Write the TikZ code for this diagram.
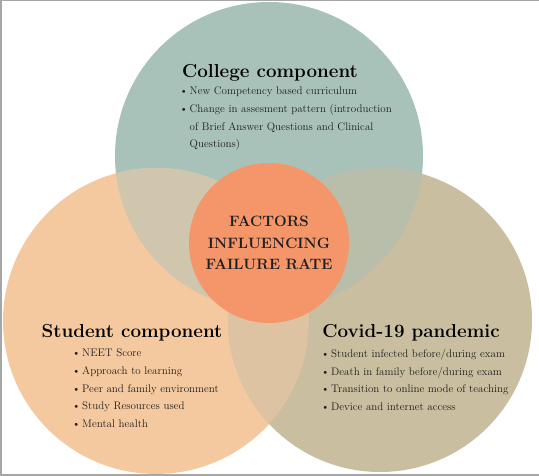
\documentclass[tikz,border=0pt]{standalone}
\usetikzlibrary{positioning}

\definecolor{collegeteal}{HTML}{A9C2B9}
\definecolor{studentpeach}{HTML}{F5C9A0}
\definecolor{covidkhaki}{HTML}{C9BFA0}
\definecolor{tealpeach}{HTML}{D0C6AE}
\definecolor{tealkhaki}{HTML}{B9BEAA}
\definecolor{peachkhaki}{HTML}{DDC3A1}
\definecolor{coreorange}{HTML}{F4956A}
\definecolor{textdark}{HTML}{1E1E1E}

\newcommand{\listdot}{\makebox[10pt][l]{\textbullet}}

\begin{document}
\begin{tikzpicture}[x=1pt,y=1pt]
			\tikzstyle{heading} = [font=\bfseries\fontsize{18.8}{22}\selectfont, text=black, anchor=base, inner sep=0pt]
			\tikzstyle{bulletlist} = [font=\fontsize{11}{17.6}\selectfont, text=textdark, align=left, anchor=north west, inner sep=0pt]
			\tikzstyle{core} = [circle, fill=coreorange, minimum size=160pt, inner sep=0pt, align=center, font=\bfseries\fontsize{15}{21.5}\selectfont, text=textdark]

			\useasboundingbox (0,0) rectangle (539,476);
			\fill[white] (0,0) rectangle (539,476);

			\coordinate (college) at (269,320);
			\coordinate (student) at (156,155);
			\coordinate (covid) at (380,156);

			% the three components
			\fill[collegeteal] (college) circle (154);
			\fill[studentpeach] (student) circle (153);
			\fill[covidkhaki] (covid) circle (152);

			% overlaps
			\begin{scope}
				\clip (college) circle (154);
				\fill[tealpeach] (student) circle (153);
				\fill[tealkhaki] (covid) circle (152);
			\end{scope}
			\begin{scope}
				\clip (student) circle (153);
				\clip (covid) circle (152);
				\fill[peachkhaki] (student) circle (153);
			\end{scope}

			\node [core] (factors) at (269,233) {FACTORS\\ INFLUENCING\\ FAILURE RATE};

			\node [heading] (collegetitle) at (270,398) {College component};
			\node [bulletlist] (collegelist) at (179.5,389) {\listdot New Competency based curriculum\\
				\listdot Change in assesment pattern (introduction\\
				\hspace*{10pt}of Brief Answer Questions and Clinical\\
				\hspace*{10pt}Questions)};

			\node [heading] (studenttitle) at (132,138) {Student component};
			\node [bulletlist] (studentlist) at (72,127) {\listdot NEET Score\\
				\listdot Approach to learning\\
				\listdot Peer and family environment\\
				\listdot Study Resources used\\
				\listdot Mental health};

			\node [heading] (covidtitle) at (411,138) {Covid-19 pandemic};
			\node [bulletlist] (covidlist) at (321,127) {\listdot Student infected before/during exam\\
				\listdot Death in family before/during exam\\
				\listdot Transition to online mode of teaching\\
				\listdot Device and internet access};

			% frame
			\draw[gray!70, line width=1.5pt] (539,476) -- (0.75,476) -- (0.75,0.75) -- (539,0.75);
		\end{tikzpicture}
\end{document}
